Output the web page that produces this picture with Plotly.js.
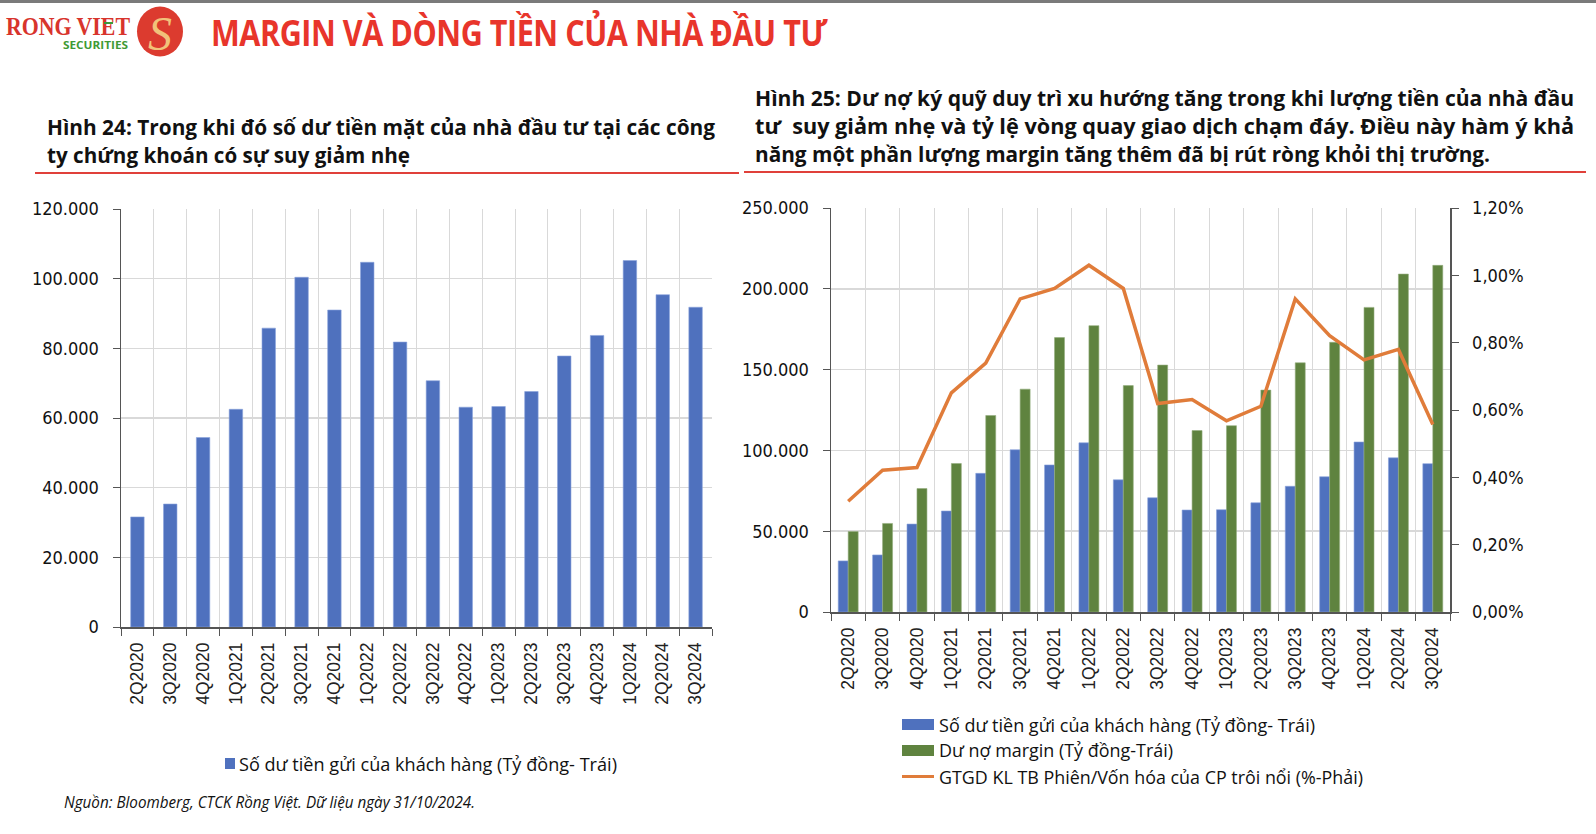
<!DOCTYPE html>
<html>
<head>
<meta charset="utf-8">
<script src="https://cdn.plot.ly/plotly-3.0.1.min.js"></script>
<style>
  html, body { margin: 0; padding: 0; background: #fff; }
  body { width: 1596px; height: 834px; position: relative; overflow: hidden; font-family: "Open Sans", "Noto Sans", sans-serif; }
  #topbar { position: absolute; left: 0; top: 0; width: 1596px; height: 3px; background: #7a7a7a; }
  #logo { position: absolute; left: 0; top: 0; }
  .fit { position: absolute; white-space: nowrap; transform-origin: 0 50%; }
  .head { color: #e8352b; font-weight: bold; font-size: 35px; line-height: 40px; letter-spacing: -0.5px; }
  .ft { color: #111; font-weight: bold; font-size: 21.5px; line-height: 28px; }
  .lg { color: #111; font-size: 19px; line-height: 24px; }
  .src { color: #111; font-style: italic; font-size: 15.5px; line-height: 20px; }
  .rule { position: absolute; height: 2px; background: #e0403a; }
  .key { position: absolute; }
  .chart { position: absolute; }
</style>
</head>
<body>
<div id="topbar"></div>
<svg id="logo" width="200" height="62">
  <text x="6" y="35" font-family="Liberation Serif, DejaVu Serif, serif" font-size="25" font-weight="bold" fill="#d8342c"
        textLength="124" lengthAdjust="spacingAndGlyphs">RONG VIET</text>
  <rect x="104" y="22" width="9" height="2" fill="#3a9a3a"/>
  <text x="63" y="49" font-family="Open Sans, sans-serif" font-weight="bold"
        font-size="11" fill="#3f9a35" textLength="65" lengthAdjust="spacingAndGlyphs">SECURITIES</text>
  <ellipse cx="160" cy="31.5" rx="23" ry="25" fill="#dc3b2f"/>
  <text x="160" y="50" text-anchor="middle" font-family="Liberation Serif, DejaVu Serif, serif"
        font-size="48" font-style="italic" fill="#f1c27a">S</text>
</svg>

<div class="fit head" data-w="616" style="left:211px; top:12.6px;">MARGIN VÀ DÒNG TIỀN CỦA NHÀ ĐẦU TƯ</div>

<div class="fit ft" data-w="668" style="left:46.5px; top:113.3px;">Hình 24: Trong khi đó số dư tiền mặt của nhà đầu tư tại các công</div>
<div class="fit ft" data-w="363" style="left:46.5px; top:140.7px;">ty chứng khoán có sự suy giảm nhẹ</div>
<div class="rule" style="left:35px; top:172px; width:704px;"></div>

<div class="fit ft" data-w="819" style="left:755.3px; top:83.7px;">Hình 25: Dư nợ ký quỹ duy trì xu hướng tăng trong khi lượng tiền của nhà đầu</div>
<div class="fit ft" data-w="819" style="left:755.3px; top:112.2px;">tư&nbsp; suy giảm nhẹ và tỷ lệ vòng quay giao dịch chạm đáy. Điều này hàm ý khả</div>
<div class="fit ft" data-w="735" style="left:755.3px; top:139.7px;">năng một phần lượng margin tăng thêm đã bị rút ròng khỏi thị trường.</div>
<div class="rule" style="left:744px; top:171px; width:842px;"></div>

<div id="c24" class="chart" style="left:0px; top:190px; width:730px; height:600px;"></div>
<div id="c25" class="chart" style="left:730px; top:190px; width:866px; height:610px;"></div>

<div id="legends"></div>

<div class="fit src" data-w="411" style="left:63.5px; top:792px;">Nguồn: Bloomberg, CTCK Rồng Việt. Dữ liệu ngày 31/10/2024.</div>

<script>
  var quarters = ["2Q2020", "3Q2020", "4Q2020", "1Q2021", "2Q2021", "3Q2021", "4Q2021", "1Q2022", "2Q2022",
                  "3Q2022", "4Q2022", "1Q2023", "2Q2023", "3Q2023", "4Q2023", "1Q2024", "2Q2024", "3Q2024"];
  // customer cash deposits, bn VND
  var deposits = [31600, 35300, 54400, 62500, 85800, 100400, 91000, 104700, 81800,
                  70700, 63100, 63300, 67600, 77800, 83700, 105200, 95400, 91800];
  // margin debt, bn VND
  var margin = [49800, 54800, 76400, 91900, 121600, 137900, 169800, 177200, 140100,
                152800, 112300, 115300, 137300, 154200, 166900, 188500, 209100, 214500];
  // avg session turnover / free-float cap, fraction
  var turnover = [0.00329, 0.00421, 0.00429, 0.00651, 0.00739, 0.00930, 0.00961, 0.01030, 0.00961,
                  0.00619, 0.00631, 0.00568, 0.00611, 0.00930, 0.00821, 0.00749, 0.00780, 0.00557];

  var nameDep = "Số dư tiền gửi của khách hàng (Tỷ đồng- Trái)";
  var nameMargin = "Dư nợ margin (Tỷ đồng-Trái)";
  var nameTurn = "GTGD KL TB Phiên/Vốn hóa của CP trôi nổi (%-Phải)";

  var BLUE = "#4f71be", GREEN = "#5f833f", ORANGE = "#e07c3a";
  var NARROW = '"DejaVu Sans Condensed", "Liberation Sans Narrow", "Open Sans", sans-serif';
  var ARIAL = '"Liberation Sans", Arial, sans-serif';
  var OPTS = { displayModeBar: false, staticPlot: true };

  function catAxis() {
    return {
      type: "category", tickson: "boundaries", ticks: "outside", ticklen: 7, tickcolor: "#555",
      showgrid: true, gridcolor: "#d9d9d9", gridwidth: 1,
      showline: true, linecolor: "#555", linewidth: 1.5, ticklabelstandoff: 7,
      tickangle: -90, tickfont: { family: ARIAL, size: 17.5, color: "#222" }, automargin: false
    };
  }
  function valAxis(range, dtick) {
    return {
      range: range, dtick: dtick, tickformat: ",.0f", ticks: "outside", ticklen: 7, tickcolor: "#555",
      showline: true, linecolor: "#555", linewidth: 1.5, zeroline: false, ticklabelstandoff: 10,
      showgrid: true, gridcolor: "#d9d9d9", gridwidth: 1.5,
      tickfont: { family: NARROW, size: 18, color: "#111" }, automargin: false
    };
  }

  // Figure 24: plot area x 121..712, y 209..627
  Plotly.newPlot("c24", [{
    type: "bar", x: quarters, y: deposits, name: nameDep,
    marker: { color: BLUE, line: { color: "#8aa3db", width: 0.6 } }
  }], {
    width: 730, height: 600, paper_bgcolor: "rgba(0,0,0,0)", plot_bgcolor: "#fff",
    margin: { l: 121, r: 18, t: 19, b: 163 }, separators: ",.", bargap: 0.59,
    xaxis: catAxis(), yaxis: valAxis([0, 120000], 20000), showlegend: false
  }, OPTS);

  // Figure 25: plot area x 831..1450, y 208..622
  var y2 = valAxis([0, 0.012], 0.002);
  y2.tickformat = ".2%"; y2.overlaying = "y"; y2.side = "right"; y2.showgrid = false;
  Plotly.newPlot("c25", [
    { type: "bar", x: quarters, y: deposits, name: nameDep,
      marker: { color: BLUE, line: { color: "#8aa3db", width: 0.6 } } },
    { type: "bar", x: quarters, y: margin, name: nameMargin,
      marker: { color: GREEN, line: { color: "#93ad7d", width: 0.6 } } },
    { type: "scatter", mode: "lines", x: quarters, y: turnover, name: nameTurn, yaxis: "y2",
      line: { color: ORANGE, width: 3.5 } }
  ], {
    width: 866, height: 610, paper_bgcolor: "rgba(0,0,0,0)", plot_bgcolor: "#fff",
    margin: { l: 101, r: 146, t: 18, b: 188 }, separators: ",.", barmode: "group", bargap: 0.42, bargroupgap: 0,
    xaxis: catAxis(), yaxis: valAxis([0, 250000], 50000), yaxis2: y2, showlegend: false
  }, OPTS);

  // legends (Excel-style keys): [name, colour, kind, keyLeft, keyWidth, textLeft, textWidth, centreY]
  var legendRows = [
    [nameDep, BLUE, "box", 224.5, 10.5, 239, 378, 763.5],
    [nameDep, BLUE, "box", 902, 32, 938.5, 376, 724.5],
    [nameMargin, GREEN, "box", 902, 32, 938.5, 234, 750.3],
    [nameTurn, ORANGE, "line", 902, 32, 938.5, 424, 776.7]
  ];
  var host = document.getElementById("legends");
  legendRows.forEach(function (r) {
    var k = document.createElement("div");
    k.className = "key";
    var h = r[2] === "line" ? 3.5 : 10.5;
    k.style.cssText = "left:" + r[3] + "px;top:" + (r[7] - h / 2) + "px;width:" + r[4] + "px;height:" + h + "px;background:" + r[1] + ";";
    host.appendChild(k);
    var t = document.createElement("div");
    t.className = "fit lg";
    t.setAttribute("data-w", r[6]);
    t.style.left = r[5] + "px"; t.style.top = (r[7] - 12) + "px";
    t.textContent = r[0];
    host.appendChild(t);
  });

  // squeeze each text line to the width it has in the reference (condensed face)
  document.querySelectorAll(".fit").forEach(function (el) {
    var w = el.getBoundingClientRect().width, target = Number(el.getAttribute("data-w"));
    if (w > 0 && target > 0) el.style.transform = "scaleX(" + (target / w) + ")";
  });
</script>
</body>
</html>
